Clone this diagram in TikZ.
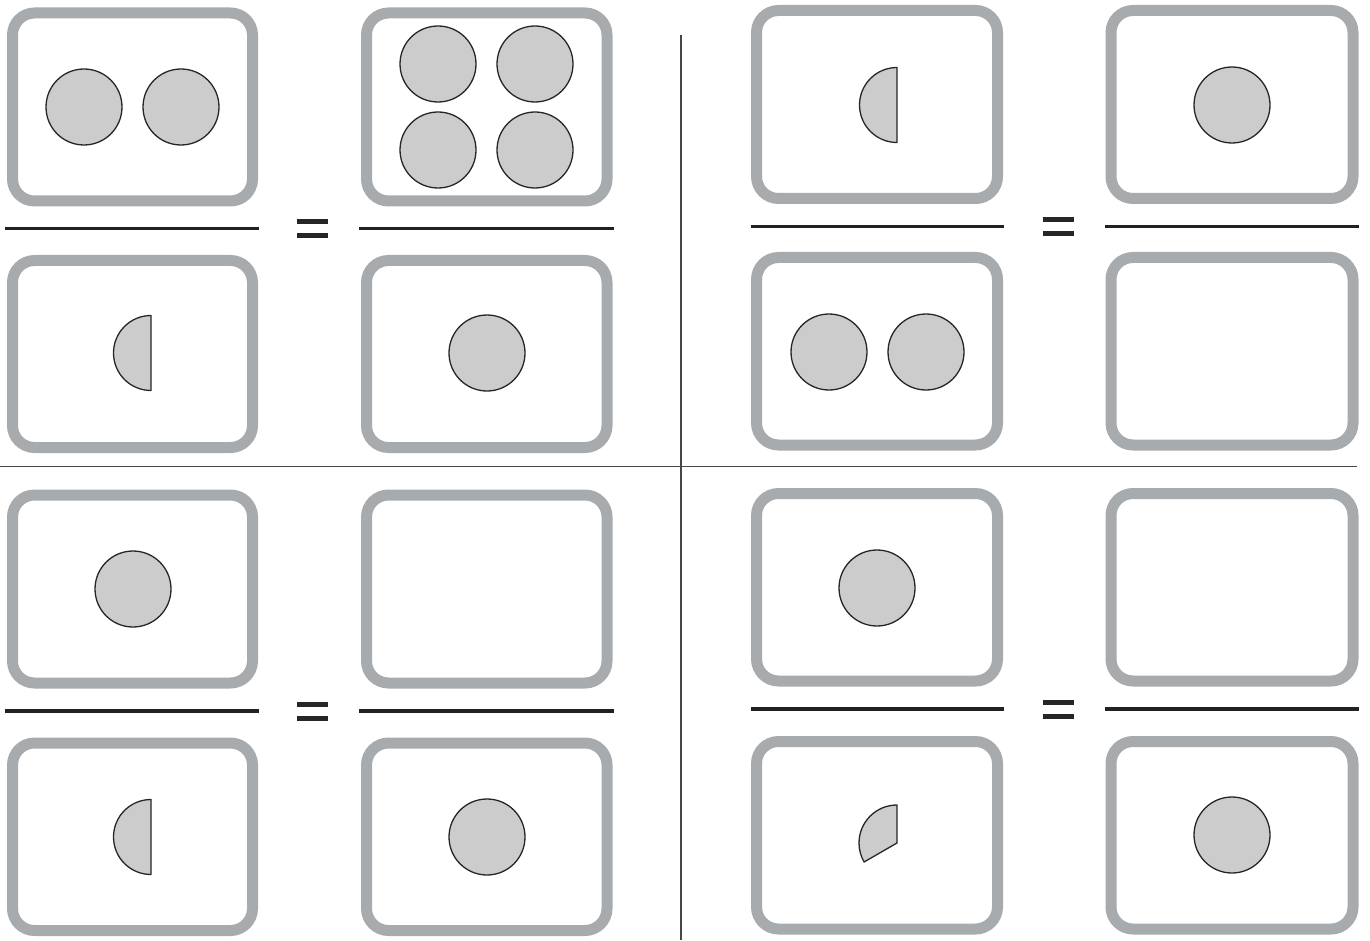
\documentclass[tikz,border=0pt]{standalone}
\begin{document}
\begin{tikzpicture}[x=0.5pt,y=-0.5pt,
  card/.style={draw=cardgray,line width=5.5pt,rounded corners=11pt},
  disc/.style={fill=discgray,draw=black!85,line width=0.65pt,line join=round},
  fracline/.style={draw=black!87,line width=1.8pt},
  eqbar/.style={fill=black!85},
  divider/.style={draw=black!72,line width=0.75pt}]
\definecolor{cardgray}{HTML}{A7ABAE}
\definecolor{discgray}{HTML}{CCCCCC}
\useasboundingbox (0,0) rectangle (1370,941);
% dividers
\coordinate (vtop) at (681,35); \coordinate (vbot) at (681,940);
\coordinate (hl) at (0,466.5); \coordinate (hr) at (1357,466.5);
\draw[divider] (vtop) -- (vbot);
\draw[divider] (hl) -- (hr);
% ---------- top-left panel ----------
\draw[card] (12.5,13) rectangle (252.5,201);
\draw[card] (366.5,13) rectangle (607,201);
\draw[card] (12.5,260.5) rectangle (252.5,447.5);
\draw[card] (366.5,260.5) rectangle (607,447.5);
\draw[fracline] (5,228.5) -- (259,228.5);
\draw[fracline] (359,228.5) -- (614,228.5);
\fill[eqbar] (297,219) rectangle (328,224);
\fill[eqbar] (297,233) rectangle (328,238);
\draw[disc] (84,107) circle[radius=38];
\draw[disc] (181,107) circle[radius=38];
\draw[disc] (438,64) circle[radius=38];
\draw[disc] (535,64) circle[radius=38];
\draw[disc] (438,150) circle[radius=38];
\draw[disc] (535,150) circle[radius=38];
\draw[disc] (151,315.5) arc[start angle=-90,end angle=-270,radius=37.5] -- cycle;
\draw[disc] (487,353) circle[radius=38];
% ---------- top-right panel ----------
\draw[card] (756.5,10.5) rectangle (997.5,198.5);
\draw[card] (1111,10.5) rectangle (1353,198.5);
\draw[card] (756.5,257.5) rectangle (997.5,445);
\draw[card] (1111,257.5) rectangle (1353,445);
\draw[fracline] (751,226.5) -- (1004,226.5);
\draw[fracline] (1105,226.5) -- (1359,226.5);
\fill[eqbar] (1043,217) rectangle (1074,222);
\fill[eqbar] (1043,231) rectangle (1074,236);
\draw[disc] (897,67.5) arc[start angle=-90,end angle=-270,radius=37.5] -- cycle;
\draw[disc] (1232,105) circle[radius=38];
\draw[disc] (829,352) circle[radius=38];
\draw[disc] (926,352) circle[radius=38];
% ---------- bottom-left panel ----------
\draw[card] (12.5,495) rectangle (252.5,683);
\draw[card] (366.5,495) rectangle (607,683);
\draw[card] (12.5,743) rectangle (252.5,930.5);
\draw[card] (366.5,743) rectangle (607,930.5);
\draw[fracline] (5,711) -- (259,711);
\draw[fracline] (359,711) -- (614,711);
\fill[eqbar] (297,702) rectangle (328,707);
\fill[eqbar] (297,716) rectangle (328,721);
\draw[disc] (133,589) circle[radius=38];
\draw[disc] (151,799.5) arc[start angle=-90,end angle=-270,radius=37.5] -- cycle;
\draw[disc] (487,837) circle[radius=38];
% ---------- bottom-right panel ----------
\draw[card] (756.5,493.5) rectangle (997.5,681);
\draw[card] (1111,493.5) rectangle (1353,681);
\draw[card] (756.5,741.5) rectangle (997.5,929);
\draw[card] (1111,741.5) rectangle (1353,929);
\draw[fracline] (751,709) -- (1004,709);
\draw[fracline] (1105,709) -- (1359,709);
\fill[eqbar] (1043,700) rectangle (1074,705);
\fill[eqbar] (1043,714) rectangle (1074,719);
\draw[disc] (877,588) circle[radius=38];
\draw[disc] (897,843) -- (897,805) arc[start angle=-90,end angle=-210,radius=38] -- cycle;
\draw[disc] (1232,835) circle[radius=38];
\end{tikzpicture}
\end{document}
